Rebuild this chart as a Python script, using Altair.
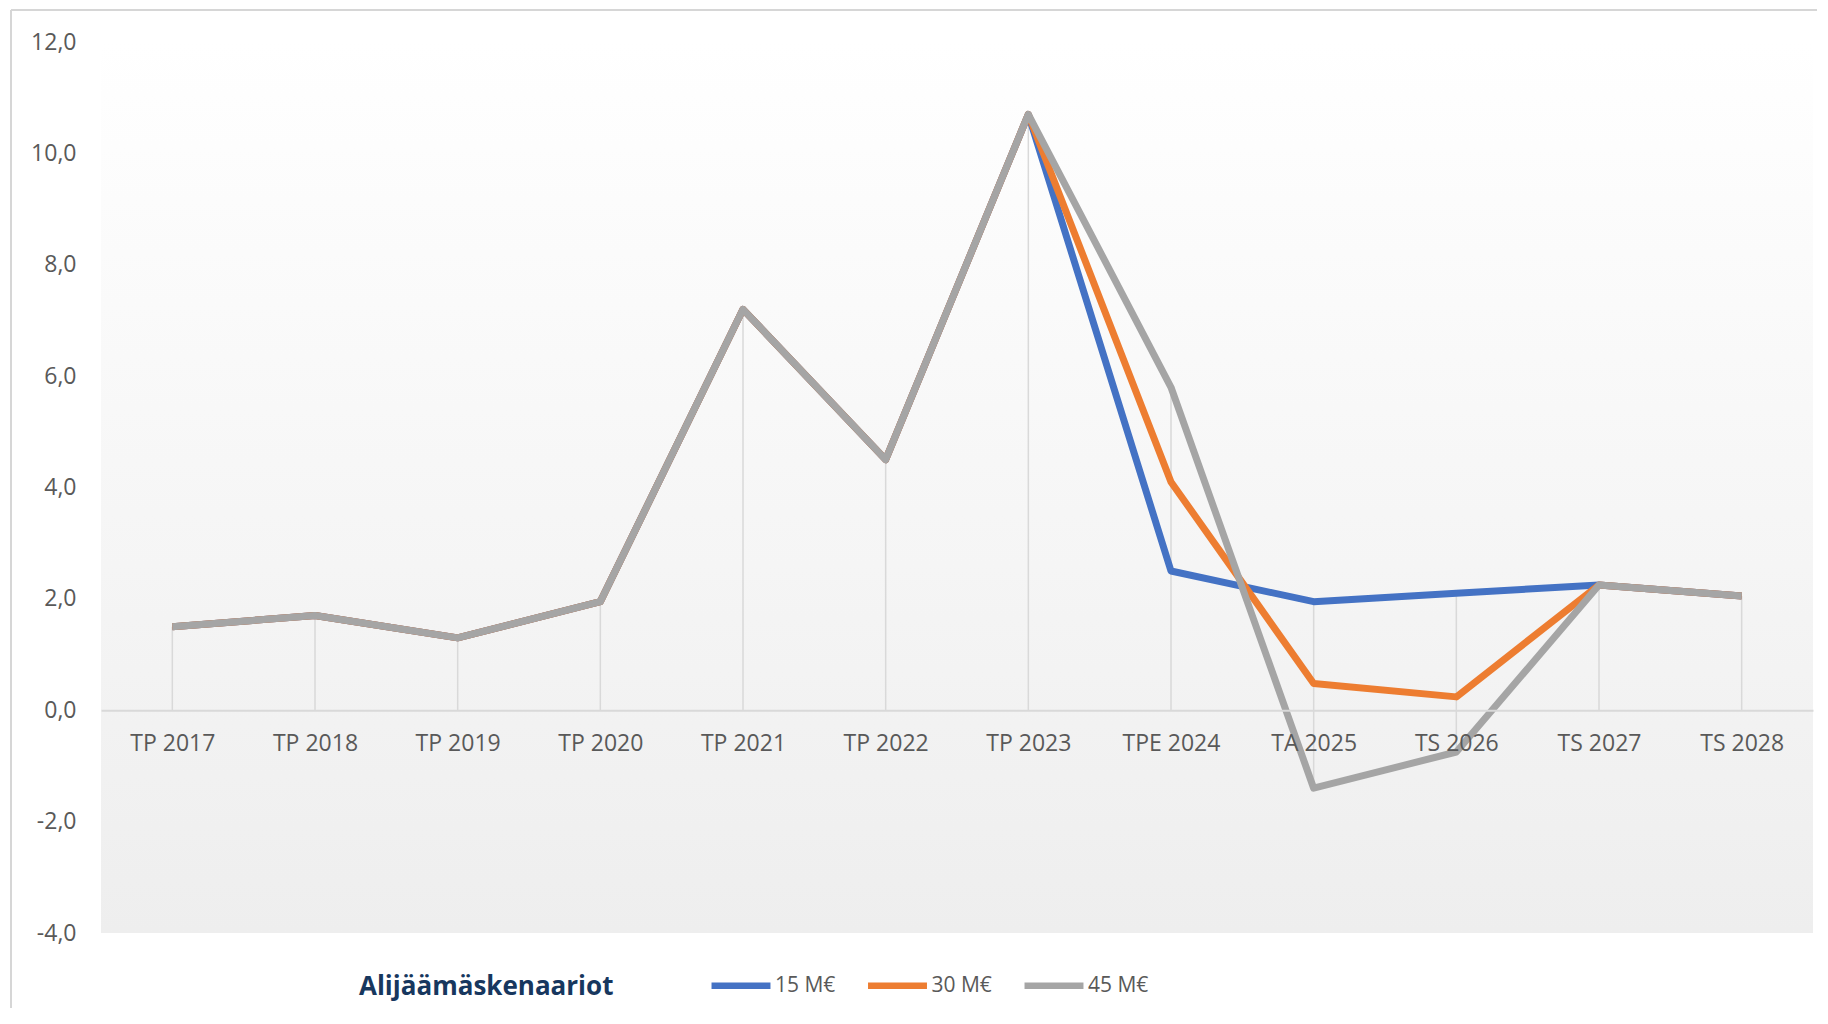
import altair as alt
import pandas as pd

# ---- data ----
categories = ["TP 2017", "TP 2018", "TP 2019", "TP 2020", "TP 2021", "TP 2022",
              "TP 2023", "TPE 2024", "TA 2025", "TS 2026", "TS 2027", "TS 2028"]
s15 = [1.5, 1.7, 1.3, 1.95, 7.2, 4.5, 10.7, 2.5, 1.95, 2.1, 2.25, 2.05]
s30 = [1.5, 1.7, 1.3, 1.95, 7.2, 4.5, 10.7, 4.1, 0.48, 0.24, 2.25, 2.05]
s45 = [1.5, 1.7, 1.3, 1.95, 7.2, 4.5, 10.7, 5.8, -1.4, -0.75, 2.25, 2.05]
series_names = ["15 M€", "30 M€", "45 M€"]
series_colors = ["#4472C4", "#ED7D31", "#A5A5A5"]
y_ticks = [-4, -2, 0, 2, 4, 6, 8, 10, 12]
legend_title = "Alijäämäskenaariot"

W, H = 1712, 891
Y_MIN, Y_MAX = -4, 12

rows = []
for name, vals in zip(series_names, [s15, s30, s45]):
    for c, v in zip(categories, vals):
        rows.append({"cat": c, "series": name, "value": v})
df = pd.DataFrame(rows)

drop = pd.DataFrame({
    "cat": categories,
    "lo": [min(0, a, b, c) for a, b, c in zip(s15, s30, s45)],
    "hi": [max(0, a, b, c) for a, b, c in zip(s15, s30, s45)],
})

font = "Open Sans"
label_color = "#595959"

x_scale = alt.Scale(type="point", domain=categories, padding=0.5)
y_scale = alt.Scale(domain=[Y_MIN, Y_MAX], nice=False, zero=False)
zero_offset = -(H - H * (Y_MAX - 0) / (Y_MAX - Y_MIN))

label_expr = "replace(replace(format(datum.value, '.1f'), '.', ','), '\u2212', '-')"

x_axis = alt.Axis(orient="bottom", offset=zero_offset, domain=True, domainColor="#d9d9d9",
                  domainWidth=2, ticks=False, grid=False, labelPadding=22, labelAngle=0,
                  labelFont=font, labelFontSize=23, labelColor=label_color, title=None,
                  zindex=1)
y_axis = alt.Axis(values=y_ticks, grid=False, domain=False, ticks=False, labelPadding=25,
                  labelFont=font, labelFontSize=23, labelColor=label_color,
                  labelExpr=label_expr, title=None, zindex=1)

bg = alt.Chart(pd.DataFrame({"a": [0]})).mark_rect(
    color=alt.LinearGradient(gradient="linear", x1=0, x2=0, y1=0, y2=1,
                             stops=[alt.GradientStop(offset=0, color="#ffffff"),
                                    alt.GradientStop(offset=1, color="#eeeeee")])
).encode(x=alt.value(0), x2=alt.value(W), y=alt.value(0), y2=alt.value(H))

border_left = alt.Chart(pd.DataFrame({"a": [0]})).mark_rule(color="#d6d6d6", strokeWidth=2).encode(
    x=alt.value(-90), y=alt.value(-32), y2=alt.value(966))
border_top = alt.Chart(pd.DataFrame({"a": [0]})).mark_rule(color="#d6d6d6", strokeWidth=2).encode(
    x=alt.value(-90), x2=alt.value(W + 4), y=alt.value(-32))

drops = alt.Chart(drop).mark_rule(color="#d9d9d9", strokeWidth=1.5).encode(
    x=alt.X("cat:N", scale=x_scale, axis=x_axis, sort=categories),
    y=alt.Y("lo:Q", scale=y_scale, axis=y_axis),
    y2="hi:Q",
)

color = alt.Color(
    "series:N",
    scale=alt.Scale(domain=series_names, range=series_colors),
    legend=alt.Legend(
        orient="none", legendX=258, legendY=933, direction="horizontal",
        title=legend_title, titleOrient="left", titleFont=font, titleFontSize=26,
        titleFontWeight="bold", titleColor="#17375E", titlePadding=116.5,
        titleBaseline="middle", titleAnchor="middle", titleLimit=600,
        symbolType="M-5,0L5,0", symbolSize=139, symbolStrokeWidth=6.5,
        labelOffset=23.5, labelFont=font, labelFontSize=21, labelColor=label_color,
        columnPadding=19.5, labelLimit=200,
    ),
)

line_layers = []
for name in series_names:
    line_layers.append(
        alt.Chart(df).transform_filter(alt.datum.series == name).mark_line(
            strokeWidth=7, strokeJoin="round", strokeCap="butt"
        ).encode(
            x=alt.X("cat:N", scale=x_scale, axis=x_axis, sort=categories),
            y=alt.Y("value:Q", scale=y_scale, axis=y_axis),
            color=color,
        )
    )

chart = alt.layer(bg, border_left, border_top, drops, *line_layers).properties(
    width=W, height=H,
    padding={"left": 2, "top": 1, "right": 0, "bottom": 6},
    background="white",
).configure_view(stroke=None)

chart.save("out.html", embed_options={"renderer": "svg", "actions": False})
